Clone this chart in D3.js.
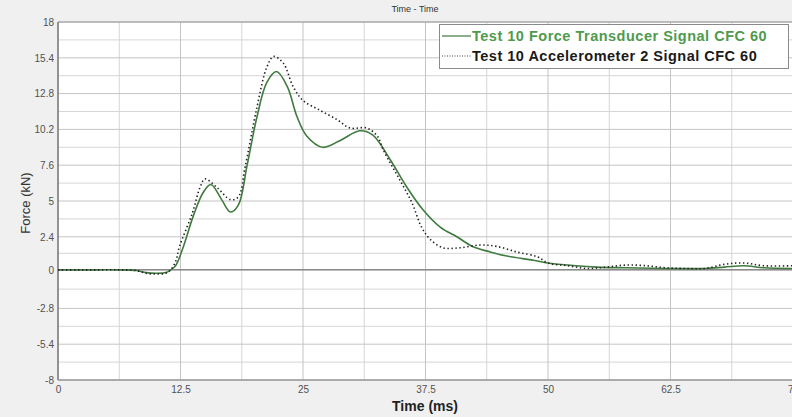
<!DOCTYPE html>
<html>
<head>
<meta charset="utf-8">
<script src="https://cdn.jsdelivr.net/npm/d3@7"></script>
<style>
  html, body { margin: 0; padding: 0; background: #f0f0f0; }
  svg { display: block; font-family: "Liberation Sans", Arial, sans-serif; }
</style>
</head>
<body>
<svg id="chart" width="792" height="417"></svg>
<script>
// ---- data ----
const chartTitle = "Time - Time";
const xLabel = "Time (ms)";
const yLabel = "Force (kN)";
const seriesNames = ["Test 10 Force Transducer Signal CFC 60", "Test 10 Accelerometer 2 Signal CFC 60"];

const xTicks = [0, 12.5, 25, 37.5, 50, 62.5, 75];
const xTickLabels = ["0", "12.5", "25", "37.5", "50", "62.5", "75"];
const yTicks = [18, 15.4, 12.8, 10.2, 7.6, 5, 2.4, 0, -2.8, -5.4, -8];
const yTickLabels = ["18", "15.4", "12.8", "10.2", "7.6", "5", "2.4", "0", "-2.8", "-5.4", "-8"];

const forceTime = [0, 2, 4, 6, 8, 9, 10, 11, 11.5, 12, 12.8, 13.8, 14.8, 15.6, 16.7, 17.6, 18.4, 19.3, 20.3, 21.3, 22.3, 23.4, 24.4, 25.4, 27, 28.8, 30.8, 32.1, 33.9, 35.6, 37.2, 39, 40.7, 42.3, 44.1, 45.8, 48.5, 50, 52, 55, 58, 62, 66, 68, 70, 72, 75];
const forceValues = [0, 0, 0, 0, -0.05, -0.2, -0.25, -0.2, 0, 0.3, 1.7, 3.9, 5.6, 6.2, 5.1, 4.2, 4.7, 7.6, 11.1, 13.6, 14.4, 13.3, 11.1, 9.7, 8.9, 9.4, 10.1, 9.8, 8.0, 6.0, 4.4, 3.1, 2.4, 1.7, 1.3, 1.0, 0.7, 0.5, 0.35, 0.2, 0.15, 0.1, 0.1, 0.2, 0.3, 0.15, 0.1];

const accelTime = [0, 2, 4, 6, 8, 9, 10, 11, 11.5, 12, 12.4, 13.7, 14.5, 15.0, 16.2, 17.6, 18.4, 19.1, 20.3, 21.3, 22.0, 23, 24, 25, 26.7, 28.5, 29.8, 31.5, 32.6, 33.2, 34.9, 36.1, 37.1, 38, 39.3, 41, 43.1, 44.8, 46.8, 48.9, 50, 52, 54, 56, 58, 60, 62, 64, 66, 68, 70, 72, 75];
const accelValues = [0, 0, 0, 0, -0.05, -0.25, -0.3, -0.25, 0, 0.6, 1.7, 4.1, 6.0, 6.6, 6.0, 5.1, 5.3, 7.5, 11.8, 14.7, 15.5, 15.0, 13.3, 12.3, 11.6, 10.9, 10.3, 10.3, 9.7, 8.7, 6.5, 4.9, 3.1, 2.2, 1.6, 1.6, 1.8, 1.7, 1.3, 0.95, 0.5, 0.3, 0.1, 0.2, 0.35, 0.3, 0.15, 0.1, 0.1, 0.4, 0.5, 0.3, 0.3];

// ---- layout ----
const svg = d3.select("#chart");
const W = 792, H = 417;
const plot = { left: 58, top: 22, right: 793, bottom: 380 };

const x = d3.scaleLinear().domain([0, 75]).range([plot.left, plot.right]);
const y = d3.scaleLinear().domain([-8, 18]).range([plot.bottom, plot.top]);

svg.append("rect").attr("width", W).attr("height", H).attr("fill", "#f0f0f0");
svg.append("rect")
  .attr("x", plot.left).attr("y", plot.top)
  .attr("width", plot.right - plot.left).attr("height", plot.bottom - plot.top)
  .attr("fill", "#ffffff");

// minor grid (midpoints between major ticks)
const xMinor = d3.pairs(xTicks).map(([a, b]) => (a + b) / 2);
const yMinor = d3.pairs(yTicks).map(([a, b]) => (a + b) / 2);

const grid = svg.append("g");
grid.selectAll("line.xmin").data(xMinor).join("line")
  .attr("x1", d => x(d)).attr("x2", d => x(d))
  .attr("y1", plot.top).attr("y2", plot.bottom)
  .attr("stroke", "#d6d6d6").attr("stroke-width", 1);
grid.selectAll("line.ymin").data(yMinor).join("line")
  .attr("y1", d => y(d)).attr("y2", d => y(d))
  .attr("x1", plot.left).attr("x2", plot.right)
  .attr("stroke", "#d6d6d6").attr("stroke-width", 1);
grid.selectAll("line.xmaj").data(xTicks).join("line")
  .attr("x1", d => x(d)).attr("x2", d => x(d))
  .attr("y1", plot.top).attr("y2", plot.bottom)
  .attr("stroke", "#c4c4c4").attr("stroke-width", 1);
grid.selectAll("line.ymaj").data(yTicks).join("line")
  .attr("y1", d => y(d)).attr("y2", d => y(d))
  .attr("x1", plot.left).attr("x2", plot.right)
  .attr("stroke", "#c4c4c4").attr("stroke-width", 1);

// zero line
svg.append("line")
  .attr("x1", plot.left).attr("x2", plot.right)
  .attr("y1", y(0)).attr("y2", y(0))
  .attr("stroke", "#8a8a8a").attr("stroke-width", 1.5);

// axes
const xAxis = d3.axisBottom(x).tickValues(xTicks).tickFormat((d, i) => xTickLabels[i]).tickSize(0).tickPadding(6);
const yAxis = d3.axisLeft(y).tickValues(yTicks).tickFormat((d, i) => yTickLabels[i]).tickSize(0).tickPadding(4);

const gx = svg.append("g").attr("transform", `translate(0,${plot.bottom})`).call(xAxis);
const gy = svg.append("g").attr("transform", `translate(${plot.left},0)`).call(yAxis);
[gx, gy].forEach(g => {
  g.select(".domain").remove();
  g.selectAll("text").attr("fill", "#505050").attr("font-size", 10)
    .attr("font-family", "\"Liberation Sans\", Arial, sans-serif");
});

// plot frame: top, left, bottom
svg.append("line").attr("x1", plot.left).attr("x2", plot.right).attr("y1", plot.top).attr("y2", plot.top)
  .attr("stroke", "#9a9a9a").attr("stroke-width", 1);
svg.append("line").attr("x1", plot.left).attr("x2", plot.left).attr("y1", plot.top).attr("y2", plot.bottom)
  .attr("stroke", "#7a7a7a").attr("stroke-width", 1.5);
svg.append("line").attr("x1", plot.left).attr("x2", plot.right).attr("y1", plot.bottom).attr("y2", plot.bottom)
  .attr("stroke", "#9a9a9a").attr("stroke-width", 1.5);

// lines
svg.append("clipPath").attr("id", "clip").append("rect")
  .attr("x", plot.left).attr("y", plot.top)
  .attr("width", plot.right - plot.left).attr("height", plot.bottom - plot.top);

const line = d3.line().x(d => x(d[0])).y(d => y(d[1])).curve(d3.curveCatmullRom.alpha(0.5));

const forceData = forceTime.map((t, i) => [t, forceValues[i]]);
const accelData = accelTime.map((t, i) => [t, accelValues[i]]);

const lines = svg.append("g").attr("clip-path", "url(#clip)");
lines.append("path").datum(forceData).attr("d", line)
  .attr("fill", "none").attr("stroke", "#3f7a3f").attr("stroke-width", 1.6);
lines.append("path").datum(accelData).attr("d", line)
  .attr("fill", "none").attr("stroke", "#222").attr("stroke-width", 1.6)
  .attr("stroke-dasharray", "1.4,2.6");

// legend
const lg = svg.append("g");
lg.append("rect").attr("x", 439.5).attr("y", 24.5).attr("width", 349).attr("height", 44)
  .attr("fill", "#ffffff").attr("stroke", "#8a8a8a").attr("stroke-width", 1);
lg.append("line").attr("x1", 442).attr("x2", 471).attr("y1", 36).attr("y2", 36)
  .attr("stroke", "#3f7a3f").attr("stroke-width", 1.2);
lg.append("line").attr("x1", 442).attr("x2", 471).attr("y1", 56).attr("y2", 56)
  .attr("stroke", "#444").attr("stroke-width", 1.2).attr("stroke-dasharray", "1,1.5");
lg.append("text").attr("x", 472).attr("y", 41).text(seriesNames[0])
  .attr("font-size", 14.5).attr("letter-spacing", 0.5).attr("font-weight", "bold").attr("fill", "#4f9a4f");
lg.append("text").attr("x", 472).attr("y", 61).text(seriesNames[1])
  .attr("font-size", 14.5).attr("letter-spacing", 0.5).attr("font-weight", "bold").attr("fill", "#1a1a1a");

// title and axis labels
svg.append("text").attr("x", 415).attr("y", 12).attr("text-anchor", "middle")
  .attr("font-size", 9).attr("fill", "#333").text(chartTitle);
svg.append("text").attr("x", 425).attr("y", 411).attr("text-anchor", "middle")
  .attr("font-size", 14).attr("font-weight", "bold").attr("fill", "#222").text(xLabel);
svg.append("text").attr("transform", "translate(30,203) rotate(-90)").attr("text-anchor", "middle")
  .attr("font-size", 13).attr("fill", "#333").text(yLabel);
</script>
</body>
</html>
